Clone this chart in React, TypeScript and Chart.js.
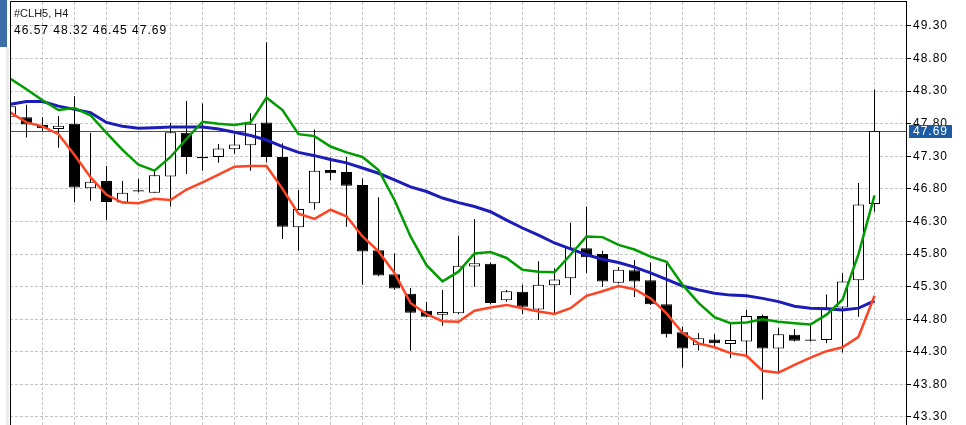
import React, { useEffect, useRef } from "react";
import { Chart, registerables } from "chart.js";

Chart.register(...registerables);

const SYMBOL_LABEL = "#CLH5, H4";

// candle index (H4 bars)
const INDEX: number[] = [
  0, 1, 2, 3, 4, 5, 6, 7, 8, 9, 10, 11, 12, 13, 14, 15, 16, 17, 18, 19,
  20, 21, 22, 23, 24, 25, 26, 27, 28, 29, 30, 31, 32, 33, 34, 35, 36, 37, 38, 39,
  40, 41, 42, 43, 44, 45, 46, 47, 48, 49, 50, 51, 52, 53, 54,
];

const OPEN: number[] = [
  47.90, 47.90, 47.78, 47.72, 47.80, 46.81, 46.92, 46.59, 46.76, 46.74,
  46.99, 47.66, 47.29, 47.29, 47.41, 47.47, 47.82, 47.29, 46.21, 46.58,
  47.09, 47.06, 46.86, 45.86, 45.49, 45.19, 44.93, 44.87, 44.89, 45.61,
  45.65, 45.09, 45.22, 44.95, 45.32, 45.43, 45.89, 45.80, 45.36, 45.55,
  45.40, 45.03, 44.60, 44.40, 44.49, 44.42, 44.46, 44.85, 44.35, 44.56,
  44.47, 44.48, 44.98, 45.40, 46.57,
];

const HIGH: number[] = [
  48.11, 48.09, 47.90, 47.92, 48.22, 47.66, 47.15, 46.92, 46.95, 47.09,
  47.81, 48.15, 48.11, 47.49, 47.64, 47.96, 49.05, 47.50, 46.78, 47.71,
  47.28, 47.29, 46.96, 46.67, 45.81, 45.28, 45.07, 45.25, 46.08, 46.34,
  45.67, 45.25, 45.33, 45.69, 45.58, 46.28, 46.53, 45.85, 45.60, 45.71,
  45.67, 45.66, 44.69, 44.59, 44.57, 44.75, 44.94, 44.87, 44.67, 44.65,
  44.71, 45.18, 45.51, 46.89, 48.32,
];

const LOW: number[] = [
  47.87, 47.59, 47.69, 47.43, 46.60, 46.62, 46.32, 46.58, 46.75, 46.74,
  46.53, 47.03, 47.08, 47.20, 47.34, 47.08, 47.21, 46.03, 45.85, 46.48,
  46.93, 46.22, 45.33, 45.46, 45.25, 44.32, 44.83, 44.70, 44.88, 45.30,
  45.03, 45.07, 44.88, 44.79, 44.89, 45.17, 45.51, 45.30, 45.35, 45.14,
  45.02, 44.52, 44.06, 44.32, 44.38, 44.20, 44.24, 43.57, 43.97, 44.46,
  44.46, 44.43, 44.29, 44.84, 46.45,
];

const CLOSE: number[] = [
  48.07, 47.79, 47.73, 47.77, 46.82, 46.91, 46.60, 46.74, 46.78, 47.01,
  47.67, 47.29, 47.27, 47.42, 47.48, 47.80, 47.29, 46.22, 46.49, 47.08,
  47.04, 46.85, 45.84, 45.47, 45.27, 44.90, 44.84, 44.91, 45.62, 45.66,
  45.05, 45.23, 44.99, 45.33, 45.41, 45.90, 45.75, 45.38, 45.56, 45.38,
  45.03, 44.57, 44.35, 44.51, 44.43, 44.48, 44.85, 44.35, 44.57, 44.47,
  44.49, 44.98, 45.38, 46.56, 47.69,
];

const MA_GREEN: number[] = [
  48.49, 48.33, 48.16, 48.01, 48.04, 47.93, 47.66, 47.40, 47.17, 47.08,
  47.29, 47.57, 47.83, 47.80, 47.78, 47.82, 48.20, 48.01, 47.64, 47.61,
  47.45, 47.36, 47.29, 47.09, 46.63, 46.07, 45.63, 45.38, 45.53, 45.81,
  45.83, 45.74, 45.56, 45.53, 45.52, 45.79, 46.07, 46.06, 45.94, 45.87,
  45.76, 45.68, 45.33, 45.05, 44.83, 44.74, 44.75, 44.80, 44.76, 44.74,
  44.72, 44.87, 45.10, 45.80, 46.70,
];

const MA_BLUE: number[] = [
  48.10, 48.14, 48.14, 48.07, 48.02, 47.97, 47.82, 47.76, 47.73, 47.74,
  47.75, 47.75, 47.75, 47.72, 47.67, 47.62, 47.55, 47.45, 47.36, 47.31,
  47.25, 47.20, 47.12, 47.04, 46.94, 46.83, 46.76, 46.66, 46.59, 46.53,
  46.45, 46.32, 46.20, 46.09, 45.97, 45.88, 45.79, 45.72, 45.67, 45.60,
  45.51, 45.41, 45.31, 45.25, 45.20, 45.17, 45.16, 45.12, 45.07, 45.00,
  44.97, 44.96, 44.94, 44.97, 45.08,
];

const MA_RED: number[] = [
  47.97, 47.82, 47.76, 47.64, 47.32, 46.98, 46.71, 46.59, 46.58, 46.65,
  46.63, 46.79, 46.90, 47.02, 47.14, 47.15, 47.15, 46.80, 46.42, 46.34,
  46.48, 46.38, 46.07, 45.84, 45.51, 45.05, 44.88, 44.77, 44.76, 44.93,
  44.98, 45.02, 44.97, 44.92, 44.88, 44.97, 45.16, 45.23, 45.31, 45.26,
  45.12, 44.89, 44.59, 44.43, 44.37, 44.28, 44.24, 44.01, 43.98, 44.10,
  44.21, 44.31, 44.37, 44.53, 45.16,
];

const Y_TICKS: number[] = [
  43.3, 43.8, 44.3, 44.8, 45.3, 45.8, 46.3, 46.8, 47.3, 47.8, 48.3, 48.8, 49.3,
];

// vertical grid every second bar
const X_GRID: number[] = INDEX.filter((i) => i % 2 === 0);

const GRID_COLOR = "#c4c4c4";
const GREEN = "#009c00";
const BLUE = "#1c1cb8";
const RED = "#ff4424";
const PRICE_BLUE = "#1c5ca4";
const FONT = '"Liberation Sans", Arial, sans-serif';

const mt4Plugin = {
  id: "mt4Chrome",
  beforeDraw(chart: any) {
    const ctx = chart.ctx;
    ctx.save();
    ctx.fillStyle = "#ffffff";
    ctx.fillRect(0, 0, chart.width, chart.height);
    ctx.fillStyle = "#ececec";
    ctx.fillRect(6, 47, 3, chart.height - 47);
    ctx.fillStyle = "#3b6ea7";
    ctx.fillRect(0, 0, 7, 47);
    ctx.restore();
    ctx.letterSpacing = "1px";
  },
  beforeDatasetsDraw(chart: any) {
    const ctx = chart.ctx;
    const area = chart.chartArea;
    const y = Math.round(chart.scales.y.getPixelForValue(CLOSE[CLOSE.length - 1])) + 0.5;
    ctx.save();
    ctx.strokeStyle = PRICE_BLUE;
    ctx.lineWidth = 1;
    ctx.beginPath();
    ctx.moveTo(area.left, y);
    ctx.lineTo(area.right, y);
    ctx.stroke();
    ctx.restore();
  },
  afterDraw(chart: any) {
    const ctx = chart.ctx;
    const area = chart.chartArea;
    ctx.save();
    // frame (left / top)
    ctx.strokeStyle = "#000000";
    ctx.lineWidth = 1;
    ctx.beginPath();
    ctx.moveTo(area.left + 0.5, area.bottom);
    ctx.lineTo(area.left + 0.5, area.top - 0.5);
    ctx.lineTo(area.right + 1, area.top - 0.5);
    ctx.stroke();

    // last price box on the axis
    const last = CLOSE.length - 1;
    const yc = Math.round(chart.scales.y.getPixelForValue(CLOSE[last])) + 0.5;
    ctx.fillStyle = PRICE_BLUE;
    ctx.fillRect(area.right + 3, yc - 6.5, 43, 13);
    ctx.fillStyle = "#ffffff";
    ctx.font = "12px " + FONT;
    ctx.letterSpacing = "1px";
    ctx.textBaseline = "middle";
    ctx.textAlign = "left";
    ctx.fillText(CLOSE[last].toFixed(2), area.right + 7, yc + 0.5);

    // header texts
    ctx.textBaseline = "alphabetic";
    ctx.fillStyle = "#1a1a1a";
    ctx.letterSpacing = "0px";
    ctx.font = "11px " + FONT;
    ctx.fillText(SYMBOL_LABEL, area.left + 4, 17);
    ctx.fillStyle = "#000000";
    ctx.letterSpacing = "1px";
    ctx.font = "12px " + FONT;
    const ohlc = [OPEN[last], HIGH[last], LOW[last], CLOSE[last]].map((v) => v.toFixed(2)).join(" ");
    ctx.fillText(ohlc, area.left + 4, 34);
    ctx.restore();
  },
};

export default function App() {
  const ref = useRef<HTMLCanvasElement>(null);

  useEffect(() => {
    const canvas = ref.current;
    if (!canvas) return;
    const wickData = INDEX.map((i) => ({ x: i, y: [LOW[i], HIGH[i]] }));
    const bodyData = INDEX.map((i) => ({ x: i, y: [OPEN[i], CLOSE[i]] }));
    const bodyColors = INDEX.map((i) => (CLOSE[i] >= OPEN[i] ? "#ffffff" : "#000000"));
    const toLine = (arr: number[]) => arr.map((v, i) => ({ x: INDEX[i], y: v }));

    const chart = new Chart(canvas, {
      type: "bar",
      data: {
        datasets: [
          {
            type: "line",
            label: "MA fast",
            data: toLine(MA_GREEN),
            borderColor: GREEN,
            borderWidth: 2.5,
            pointRadius: 0,
            tension: 0,
            clip: 0,
            order: 0,
          } as any,
          {
            type: "line",
            label: "MA low",
            data: toLine(MA_RED),
            borderColor: RED,
            borderWidth: 2.5,
            pointRadius: 0,
            tension: 0,
            clip: 0,
            order: 0,
          } as any,
          {
            type: "line",
            label: "MA slow",
            data: toLine(MA_BLUE),
            borderColor: BLUE,
            borderWidth: 3,
            pointRadius: 0,
            tension: 0,
            clip: 0,
            order: 0,
          } as any,
          {
            type: "bar",
            label: "body",
            data: bodyData,
            backgroundColor: bodyColors,
            borderColor: "#000000",
            borderWidth: 1,
            borderSkipped: false,
            grouped: false,
            barPercentage: 1,
            categoryPercentage: 1,
            maxBarThickness: 11,
            inflateAmount: 0,
            clip: 0,
            order: 1,
          } as any,
          {
            type: "bar",
            label: "wick",
            data: wickData,
            backgroundColor: "#000000",
            borderWidth: 0,
            grouped: false,
            barPercentage: 1,
            categoryPercentage: 1,
            maxBarThickness: 1,
            inflateAmount: 0,
            clip: 0,
            order: 2,
          } as any,
        ],
      },
      options: {
        responsive: false,
        animation: false,
        devicePixelRatio: 1,
        events: [],
        layout: { padding: { left: 10, top: 2, right: 0, bottom: 0 } },
        plugins: { legend: { display: false }, tooltip: { enabled: false }, title: { display: false } },
        scales: {
          x: {
            type: "linear",
            min: -1 / 32,
            max: 56 - 1 / 32,
            offset: false,
            ticks: { display: false },
            grid: { color: GRID_COLOR, drawTicks: false, offset: false, lineWidth: 1 },
            border: { display: false, dash: [3, 2] },
            afterBuildTicks: (s: any) => {
              s.ticks = X_GRID.map((v) => ({ value: v }));
            },
            afterFit: (s: any) => {
              s.height = 0;
              s.paddingLeft = 0;
              s.paddingRight = 0;
            },
          },
          y: {
            position: "right",
            min: 43.177,
            max: 49.668,
            ticks: {
              color: "#000000",
              font: { family: FONT, size: 12 },
              padding: 2,
              autoSkip: false,
              callback: (v: any) => Number(v).toFixed(2),
            },
            grid: { color: GRID_COLOR, tickColor: "#000000", tickLength: 5, tickWidth: 1, drawTicks: true, lineWidth: 1 },
            border: { display: true, color: "#000000", width: 1, dash: [3, 2] },
            afterBuildTicks: (s: any) => {
              s.ticks = Y_TICKS.map((v) => ({ value: v }));
            },
            afterFit: (s: any) => {
              s.width = 60;
              s.paddingTop = 0;
              s.paddingBottom = 0;
            },
          },
        },
      } as any,
      plugins: [mt4Plugin],
    });
    return () => chart.destroy();
  }, []);

  return (
    <div style={{ position: "fixed", left: 0, top: 0, width: 966, height: 425, background: "#fff" }}>
      <canvas ref={ref} width={966} height={425} style={{ display: "block", width: 966, height: 425 }} />
    </div>
  );
}
